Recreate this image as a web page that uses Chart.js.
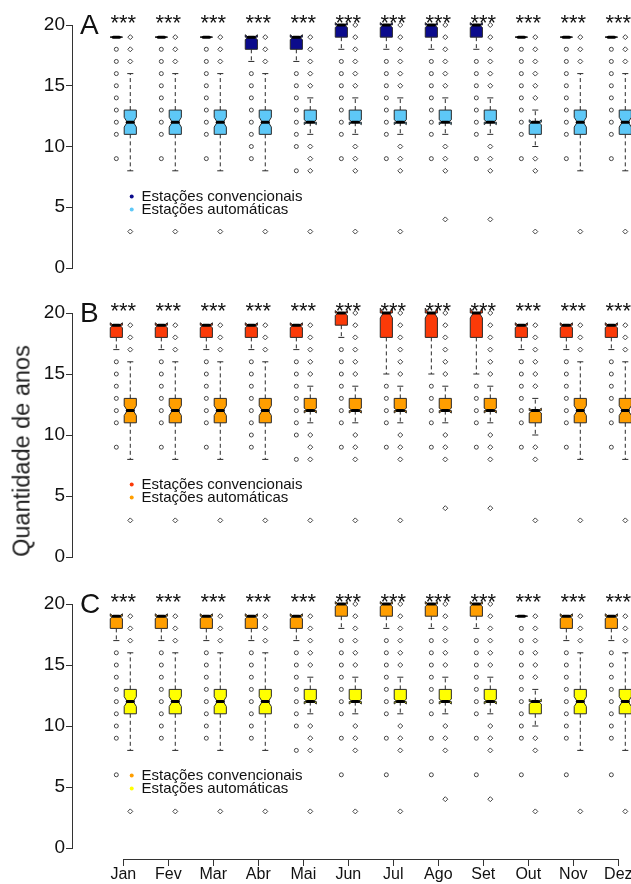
<!DOCTYPE html>
<html><head>
<meta charset="UTF-8">
<script src="https://cdn.jsdelivr.net/npm/chart.js@4.4.7/dist/chart.umd.min.js"></script>
<style>
*{margin:0;padding:0;box-sizing:border-box}
html,body{width:631px;height:884px;background:#fff;overflow:hidden;position:relative;font-family:"Liberation Sans",Arial,sans-serif}
canvas{position:absolute;left:0}
#ytit{position:absolute;left:22px;top:451px;transform:translate(-50%,-50%) rotate(-90deg);font-size:23.5px;color:#222;white-space:nowrap}
</style></head><body>
<canvas id="pa" width="631" height="290" style="top:0"></canvas>
<canvas id="pb" width="631" height="290" style="top:290px"></canvas>
<canvas id="pc" width="631" height="304" style="top:580px"></canvas>
<div id="ytit">Quantidade de anos</div>
<script>
const FONTE = '"Liberation Sans", Arial, sans-serif';

const meses = ['Jan','Fev','Mar','Abr','Mai','Jun','Jul','Ago','Set','Out','Nov','Dez'];
const signif = ['***','***','***','***','***','***','***','***','***','***','***','***'];
const ticksY = [0, 5, 10, 15, 20];
const legenda = ['Estações convencionais', 'Estações automáticas'];

// caixas: [limite inferior, q1, mediana, q3, limite superior]
const convA = [
  [19,19,19,19,19],[19,19,19,19,19],[19,19,19,19,19],[17,18,19,19,19],[17,18,19,19,19],[18,19,20,20,20],
  [18,19,20,20,20],[18,19,20,20,20],[18,19,20,20,20],[19,19,19,19,19],[19,19,19,19,19],[19,19,19,19,19]];
const convAOut = [
  [18,17,16,15,14,13,12,11,9],[18,17,16,15,14,13,12,11,9],[18,17,16,15,14,13,12,11,9],
  [16,15,14,13,12,11,10,9],[16,15,14,13,12,11,10,8],[17,16,15,14,13,12,11,9],
  [17,16,15,14,13,12,11,9],[17,16,15,14,13,12,11,9],[17,16,15,14,13,12,11,9],
  [18,17,16,15,14,13,12,11,9],[18,17,16,15,14,13,12,11,9],[18,17,16,15,14,13,12,11,9]];

const convB = [
  [17,18,19,19,19],[17,18,19,19,19],[17,18,19,19,19],[17,18,19,19,19],[17,18,19,19,19],[18,19,20,20,20],
  [15,18,20,20,20],[15,18,20,20,20],[15,18,20,20,20],[17,18,19,19,19],[17,18,19,19,19],[17,18,19,19,19]];
const convBOut = [
  [16,15,14,13,12,11,9],[16,15,14,13,12,11,9],[16,15,14,13,12,11,9],
  [16,15,14,13,12,11,10,9],[16,15,14,13,12,11,10,8],[17,16,15,14,13,12,11,9],
  [14,13,12,11,9],[14,13,12,11,9],[14,13,12,11,9],
  [16,15,14,13,12,11,9],[16,15,14,13,12,11,9],[16,15,14,13,12,11,9]];

const convC = [
  [17,18,19,19,19],[17,18,19,19,19],[17,18,19,19,19],[17,18,19,19,19],[17,18,19,19,19],[18,19,20,20,20],
  [18,19,20,20,20],[18,19,20,20,20],[18,19,20,20,20],[19,19,19,19,19],[17,18,19,19,19],[17,18,19,19,19]];
const convCOut = [
  [16,15,14,13,12,11,10,9,6],[16,15,14,13,12,11,10,9,6],[16,15,14,13,12,11,10,9,6],
  [16,15,14,13,12,11,10,9,6],[16,15,14,13,12,11,10,8,6],[17,16,15,14,13,12,11,9,6],
  [17,16,15,14,13,12,11,9,6],[17,16,15,14,13,12,11,9,6],[17,16,15,14,13,12,11,9,6],
  [18,17,16,15,14,13,12,11,10,9,6],[16,15,14,13,12,11,10,9,6],[16,15,14,13,12,11,10,9,6]];

// estações automáticas (iguais nos três painéis)
const autoBox = [
  [8,11,12,13,16],[8,11,12,13,16],[8,11,12,13,16],[8,11,12,13,16],[11,12,12,13,14],[11,12,12,13,14],
  [11,12,12,13,14],[11,12,12,13,14],[11,12,12,13,14],[10,11,12,12,13],[8,11,12,13,16],[8,11,12,13,16]];
const autoOut = [
  [19,18,17,3],[19,18,17,3],[19,18,17,3],[19,18,17,3],
  [19,18,17,16,15,10,9,8,3],[20,19,18,17,16,15,10,9,8,3],[20,19,18,17,16,15,10,9,8,3],
  [20,19,18,17,16,15,10,9,8,4],[20,19,18,17,16,15,10,9,8,4],
  [19,18,17,16,15,14,9,8,3],[19,18,17,3],[19,18,17,3]];

const DX = 0.155;    // deslocamento de cada caixa em relação ao mês
const MEIA = 0.135;  // meia largura da caixa
const NOTCH = 0.2;   // fração do IQR usada no entalhe

function desenhaCaixa(ctx, xs, ys, xc, b, cor) {
  const lo = b[0], q1 = b[1], med = b[2], q3 = b[3], hi = b[4];
  const Y = v => ys.getPixelForValue(v);
  const xm = xs.getPixelForValue(xc);
  const w = xs.getPixelForValue(xc + MEIA) - xm;
  const wn = w * 0.5;
  const n = NOTCH * (q3 - q1);
  ctx.strokeStyle = '#2a2a2a'; ctx.lineWidth = 1;
  ctx.setLineDash([4, 3]);
  ctx.beginPath();
  ctx.moveTo(xm, Y(q3)); ctx.lineTo(xm, Y(hi));
  ctx.moveTo(xm, Y(q1)); ctx.lineTo(xm, Y(lo));
  ctx.stroke();
  ctx.setLineDash([]);
  ctx.beginPath();
  ctx.moveTo(xm - wn, Y(hi)); ctx.lineTo(xm + wn, Y(hi));
  ctx.moveTo(xm - wn, Y(lo)); ctx.lineTo(xm + wn, Y(lo));
  ctx.stroke();
  const px = [xm-w, xm+w, xm+w, xm+wn, xm+w, xm+w, xm-w, xm-w, xm-wn, xm-w];
  const pv = [q1, q1, med-n, med, med+n, q3, q3, med+n, med, med-n];
  ctx.beginPath();
  px.forEach((x, k) => k ? ctx.lineTo(x, Y(pv[k])) : ctx.moveTo(x, Y(pv[k])));
  ctx.closePath();
  ctx.fillStyle = cor; ctx.fill(); ctx.stroke();
  ctx.strokeStyle = '#000'; ctx.lineWidth = 3; ctx.lineCap = 'round';
  ctx.beginPath(); ctx.moveTo(xm - wn, Y(med)); ctx.lineTo(xm + wn, Y(med)); ctx.stroke();
  ctx.lineCap = 'butt';
}

function pontos(lista, dx) {
  const out = [];
  lista.forEach((arr, i) => arr.forEach(v => out.push({x: i + 1 + dx, y: v})));
  return out;
}

function painel(id, letra, conv, convOut, corConv, corAuto, eixoX, topo, baixo) {
  const plugin = {
    id: 'painel' + letra,
    beforeDatasetsDraw(chart) {
      const ctx = chart.ctx, xs = chart.scales.x, ys = chart.scales.y;
      ctx.save();
      meses.forEach((m, i) => {
        desenhaCaixa(ctx, xs, ys, i + 1 - DX, conv[i], corConv);
        desenhaCaixa(ctx, xs, ys, i + 1 + DX, autoBox[i], corAuto);
      });
      ctx.restore();
    },
    afterDatasetsDraw(chart) {
      const ctx = chart.ctx, xs = chart.scales.x, ys = chart.scales.y, a = chart.chartArea;
      ctx.save();
      ctx.fillStyle = '#111';
      ctx.textAlign = 'center'; ctx.textBaseline = 'alphabetic';
      ctx.font = '22px ' + FONTE;
      signif.forEach((s, i) => ctx.fillText(s, xs.getPixelForValue(i + 1), ys.getPixelForValue(20) + 5));
      ctx.textAlign = 'left';
      ctx.font = '28px ' + FONTE;
      ctx.fillText(letra, 80, ys.getPixelForValue(20) + 9);
      // legenda
      const ly = [a.top + 171.5, a.top + 184.5];
      if (eixoX) { ctx.fillStyle = '#fff'; ctx.fillRect(125, ly[0] - 7, 180, 28); }
      ctx.font = '15px ' + FONTE; ctx.textBaseline = 'middle';
      [corConv, corAuto].forEach((c, k) => {
        ctx.fillStyle = c;
        ctx.beginPath(); ctx.arc(131.7, ly[k], 2, 0, Math.PI * 2); ctx.fill();
        ctx.fillStyle = '#111';
        ctx.fillText(legenda[k], 141.5, ly[k] + 0.5);
      });
      if (eixoX) {
        const yb = a.bottom + 11;
        ctx.strokeStyle = '#333'; ctx.lineWidth = 1;
        ctx.beginPath();
        ctx.moveTo(xs.getPixelForValue(1), yb + 0.5); ctx.lineTo(xs.getPixelForValue(12), yb + 0.5);
        meses.forEach((m, i) => {
          const x = Math.round(xs.getPixelForValue(i + 1)) + 0.5;
          ctx.moveTo(x, yb); ctx.lineTo(x, yb + 7);
        });
        ctx.stroke();
      }
      ctx.restore();
    }
  };

  return new Chart(document.getElementById(id), {
    type: 'scatter',
    data: {
      datasets: [
        {data: pontos(convOut, -DX), pointStyle: 'circle', pointRadius: 2, borderWidth: 1,
         borderColor: '#444', backgroundColor: 'rgba(0,0,0,0)', clip: false},
        {data: pontos(autoOut, DX), pointStyle: 'rectRot', pointRadius: 2.5, borderWidth: 1,
         borderColor: '#444', backgroundColor: 'rgba(0,0,0,0)', clip: false}
      ]
    },
    options: {
      responsive: false, animation: false,
      layout: {autoPadding: false, padding: {top: topo, bottom: baixo, left: 0, right: 0}},
      plugins: {legend: {display: false}, tooltip: {enabled: false}},
      scales: {
        x: {
          type: 'linear', min: -0.14, max: 12.282, display: eixoX,
          afterBuildTicks: s => { s.ticks = meses.map((m, i) => ({value: i + 1})); },
          afterFit: s => { s.height = eixoX ? 36 : 0; s.paddingLeft = 0; s.paddingRight = 0; },
          grid: {display: false, drawTicks: false}, border: {display: false},
          ticks: {padding: 17, autoSkip: false, maxRotation: 0, color: '#111',
                  font: {size: 16, family: FONTE}, callback: v => meses[v - 1] || ''}
        },
        y: {
          min: 0, max: 20,
          afterFit: s => { s.width = 72; },
          afterBuildTicks: s => { s.ticks = ticksY.map(v => ({value: v})); },
          ticks: {padding: 1, color: '#111', font: {size: 19, family: FONTE}},
          grid: {drawOnChartArea: false, tickLength: 6, color: '#333'},
          border: {color: '#333', width: 1}
        }
      }
    },
    plugins: [plugin]
  });
}

painel('pa', 'A', convA, convAOut, '#0b0b8c', '#5ec8f7', false, 25, 22);
painel('pb', 'B', convB, convBOut, '#fb3a08', '#ff9e00', false, 23, 23);
painel('pc', 'C', convC, convCOut, '#ff9e00', '#ffff00', true, 24, 0);
</script>
</body></html>
